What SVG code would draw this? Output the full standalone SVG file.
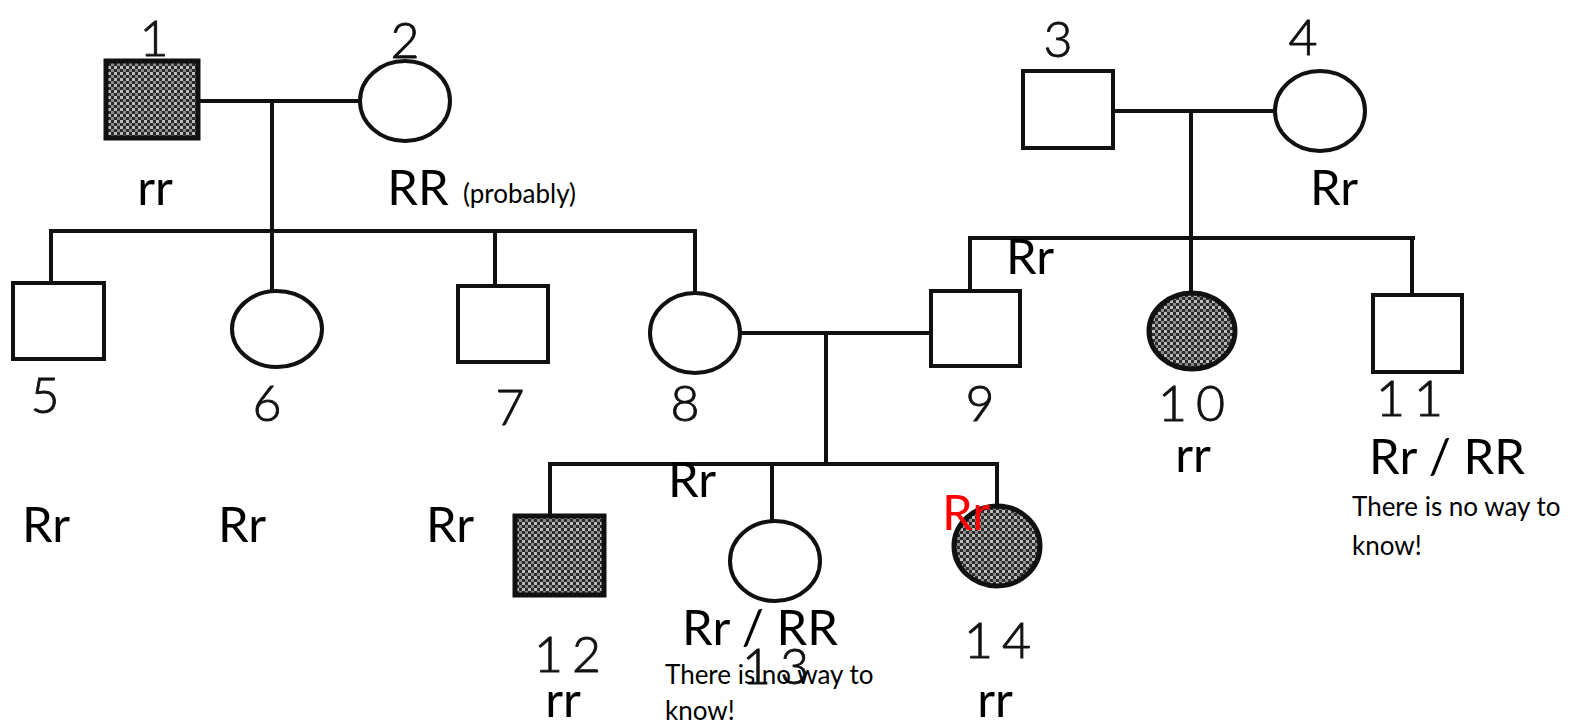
<svg xmlns="http://www.w3.org/2000/svg" width="1583" height="725" viewBox="0 0 1583 725">
<defs>
<pattern id="chk" width="6" height="6" patternUnits="userSpaceOnUse">
<rect width="6" height="6" fill="#2a2a2a"/>
<rect x="0" y="0" width="3" height="3" fill="#bdbdbd"/>
<rect x="3" y="3" width="3" height="3" fill="#8a8a8a"/>
</pattern>
</defs>
<style>
.ln{stroke:#111;stroke-width:4;fill:none}
.sq{fill:#fff;stroke:#111;stroke-width:4}
.af{fill:url(#chk);stroke:#111;stroke-width:5}
.num{font-family:Lato,"Liberation Sans",Arial,sans-serif;font-weight:300;font-size:50px;fill:#111;stroke:#111;stroke-width:0.9;text-anchor:middle}
.sp{letter-spacing:9px}
.gt{font-family:Lato,"Liberation Sans",sans-serif;font-size:49px;fill:#000;text-anchor:middle}
.sm{font-family:Lato,"Liberation Sans",sans-serif;font-size:26px;fill:#000}
.red{fill:#f00}
</style>
<rect width="1583" height="725" fill="#fff"/>
<g id="connectors">
<line class="ln" x1="199" y1="101" x2="360" y2="101"/>
<line class="ln" x1="272" y1="101" x2="272" y2="231"/>
<line class="ln" x1="49" y1="231" x2="697" y2="231"/>
<line class="ln" x1="51" y1="229" x2="51" y2="283"/>
<line class="ln" x1="272" y1="229" x2="272" y2="295"/>
<line class="ln" x1="495" y1="229" x2="495" y2="286"/>
<line class="ln" x1="695" y1="229" x2="695" y2="296"/>
<line class="ln" x1="1113" y1="111" x2="1275" y2="111"/>
<line class="ln" x1="1191" y1="111" x2="1191" y2="238"/>
<line class="ln" x1="968" y1="238" x2="1415" y2="238"/>
<line class="ln" x1="970" y1="236" x2="970" y2="291"/>
<line class="ln" x1="1191" y1="236" x2="1191" y2="298"/>
<line class="ln" x1="1412" y1="236" x2="1412" y2="295"/>
<line class="ln" x1="740" y1="333" x2="935" y2="333"/>
<line class="ln" x1="826" y1="333" x2="826" y2="464"/>
<line class="ln" x1="548" y1="464" x2="999" y2="464"/>
<line class="ln" x1="550" y1="462" x2="550" y2="515"/>
<line class="ln" x1="772" y1="462" x2="772" y2="525"/>
<line class="ln" x1="997" y1="462" x2="997" y2="510"/>
</g>
<g id="n1"><rect class="af" x="106" y="61" width="92" height="77"/><text class="num" x="154" y="56">1</text><text class="gt" x="155" y="205">rr</text></g>
<g id="n2"><ellipse class="sq" cx="405" cy="101" rx="45" ry="40"/><text class="num" x="405" y="58">2</text><text class="gt" x="418" y="205">RR</text><text class="sm" x="463" y="203">(probably)</text></g>
<g id="n3"><rect class="sq" x="1023" y="71" width="90" height="77"/><text class="num" x="1058" y="57">3</text></g>
<g id="n4"><ellipse class="sq" cx="1320" cy="111" rx="45" ry="40"/><text class="num" x="1303" y="55">4</text><text class="gt" x="1334" y="205">Rr</text></g>
<g id="n5"><rect class="sq" x="13" y="283" width="91" height="76"/><text class="num" x="45" y="413">5</text><text class="gt" x="46" y="542">Rr</text></g>
<g id="n6"><ellipse class="sq" cx="277" cy="329" rx="45" ry="38"/><text class="num" x="267" y="421">6</text><text class="gt" x="242" y="542">Rr</text></g>
<g id="n7"><rect class="sq" x="458" y="286" width="90" height="76"/><text class="num" x="510" y="425">7</text><text class="gt" x="450" y="542">Rr</text></g>
<g id="n8"><ellipse class="sq" cx="695" cy="333" rx="45" ry="40"/><text class="num" x="685" y="421">8</text></g>
<g id="n9"><rect class="sq" x="931" y="291" width="89" height="75"/><text class="num" x="980" y="421">9</text><text class="gt" x="1030" y="274">Rr</text></g>
<g id="n10"><ellipse class="af" cx="1192" cy="331" rx="43" ry="38"/><text class="num sp" x="1196" y="421">10</text><text class="gt" x="1193" y="472">rr</text></g>
<g id="n11"><rect class="sq" x="1373" y="295" width="89" height="77"/><text class="num sp" x="1414" y="416">11</text><text class="gt" x="1447" y="474">Rr / RR</text><text class="sm" x="1352" y="516">There is no way to</text><text class="sm" x="1352" y="555">know!</text></g>
<g id="n12"><rect class="af" x="515" y="516" width="89" height="79"/><text class="num sp" x="572" y="672">12</text><text class="gt" x="563" y="717">rr</text></g>
<g id="n13"><ellipse class="sq" cx="775" cy="561" rx="45" ry="40"/><text class="num sp" x="780" y="684">13</text><text class="gt" x="760" y="645">Rr / RR</text><text class="sm" x="665" y="684">There is no way to</text><text class="sm" x="665" y="720">know!</text></g>
<g id="n14"><ellipse class="af" cx="997" cy="546" rx="43" ry="40"/><text class="num sp" x="1002" y="658">14</text><text class="gt" x="995" y="717">rr</text><text class="gt red" x="966" y="530">Rr</text></g>
<g id="lbl"><text class="gt" x="692" y="497">Rr</text></g>
</svg>
